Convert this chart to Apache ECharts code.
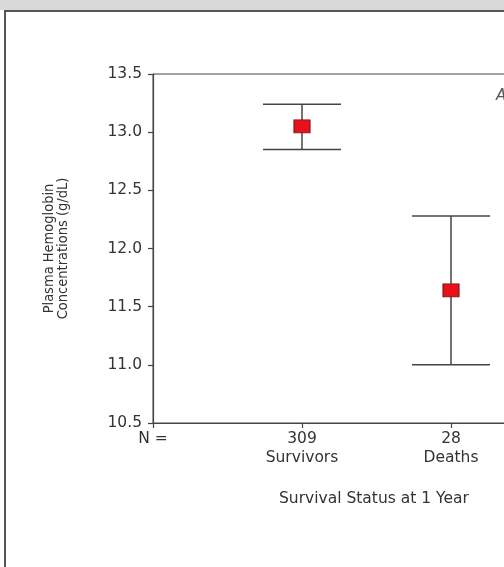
<!DOCTYPE html>
<html><head><meta charset="utf-8">
<script src="https://cdn.jsdelivr.net/npm/echarts@6/dist/echarts.min.js"></script>
<style>html,body{margin:0;padding:0;background:#fff;}#c{width:504px;height:567px;}</style>
</head><body><div id="c"></div>
<script>
const categories = ['Survivors', 'Deaths'];
const nValues = [309, 28];
const means = [13.05, 11.64];
const upper = [13.24, 12.28];
const lower = [12.85, 11.00];
const yTicks = [10.5, 11.0, 11.5, 12.0, 12.5, 13.0, 13.5];

const txt = '#333';
const lineC = '#444';
const font = '"DejaVu Sans", sans-serif';

const errData = categories.map((c, i) => [i + 1, lower[i], upper[i]]);
const meanData = categories.map((c, i) => [i + 1, means[i]]);

const chart = echarts.init(document.getElementById('c'), null, {renderer: 'canvas'});
chart.setOption({
  animation: false,
  backgroundColor: '#fff',
  grid: {left: 153, top: 74, width: 447, height: 349, outerBoundsMode: 'none', containLabel: false,
         show: true, borderColor: lineC, borderWidth: 1, backgroundColor: 'transparent'},
  xAxis: {
    type: 'value', min: 0, max: 3, interval: 1,
    axisLine: {show: true, lineStyle: {color: lineC, width: 1.2}},
    axisTick: {show: true, length: 5, lineStyle: {color: lineC, width: 1.2}},
    splitLine: {show: false},
    axisLabel: {
      margin: 6, color: txt, fontFamily: font, fontSize: 15.5, lineHeight: 19,
      formatter: v => v === 0 ? 'N =' : (v >= 1 && v <= categories.length ? nValues[v - 1] + '\n' + categories[v - 1] : '')
    }
  },
  yAxis: {
    type: 'value', min: yTicks[0], max: yTicks[yTicks.length - 1], interval: 0.5,
    axisLine: {show: true, lineStyle: {color: lineC, width: 1.2}},
    axisTick: {show: true, length: 5, lineStyle: {color: lineC, width: 1.2}},
    splitLine: {show: false},
    axisLabel: {margin: 11, color: txt, fontFamily: font, fontSize: 15.5, formatter: v => v.toFixed(1)},
    name: 'Plasma Hemoglobin\nConcentrations (g/dL)',
    nameLocation: 'middle', nameRotate: 90, nameGap: 83,
    nameTextStyle: {color: txt, fontFamily: '"DejaVu Sans Condensed", sans-serif', fontSize: 14.5, lineHeight: 14}
  },
  graphic: [
    {type: 'rect', shape: {x: 0, y: 0, width: 504, height: 10}, style: {fill: '#d8d8d8'}, z: 10},
    {type: 'line', shape: {x1: 5, y1: 11, x2: 504, y2: 11}, style: {stroke: '#555', lineWidth: 2}, z: 10},
    {type: 'line', shape: {x1: 5, y1: 10, x2: 5, y2: 567}, style: {stroke: '#555', lineWidth: 2}, z: 10},
    {type: 'text', left: 279, top: 491, style: {text: 'Survival Status at 1 Year', fill: txt, font: '15.5px ' + font}, z: 10},
    {type: 'text', left: 496, top: 89, style: {text: 'A', fill: '#555', font: 'italic 15px ' + font}, z: 10}
  ],
  series: [
    {
      type: 'custom',
      data: errData,
      renderItem: function (params, api) {
        const x = api.value(0);
        const lo = api.coord([x, api.value(1)]);
        const hi = api.coord([x, api.value(2)]);
        const hw = 39;
        const st = {stroke: lineC, lineWidth: 1.5};
        return {type: 'group', children: [
          {type: 'line', shape: {x1: lo[0], y1: lo[1], x2: hi[0], y2: hi[1]}, style: st},
          {type: 'line', shape: {x1: hi[0] - hw, y1: hi[1], x2: hi[0] + hw, y2: hi[1]}, style: st},
          {type: 'line', shape: {x1: lo[0] - hw, y1: lo[1], x2: lo[0] + hw, y2: lo[1]}, style: st}
        ]};
      },
      z: 2
    },
    {
      type: 'scatter',
      data: meanData,
      symbol: 'rect',
      symbolSize: [16, 13],
      itemStyle: {color: '#e8101a', borderColor: '#7a1212', borderWidth: 1, opacity: 1},
      z: 5
    }
  ]
});
</script></body></html>
